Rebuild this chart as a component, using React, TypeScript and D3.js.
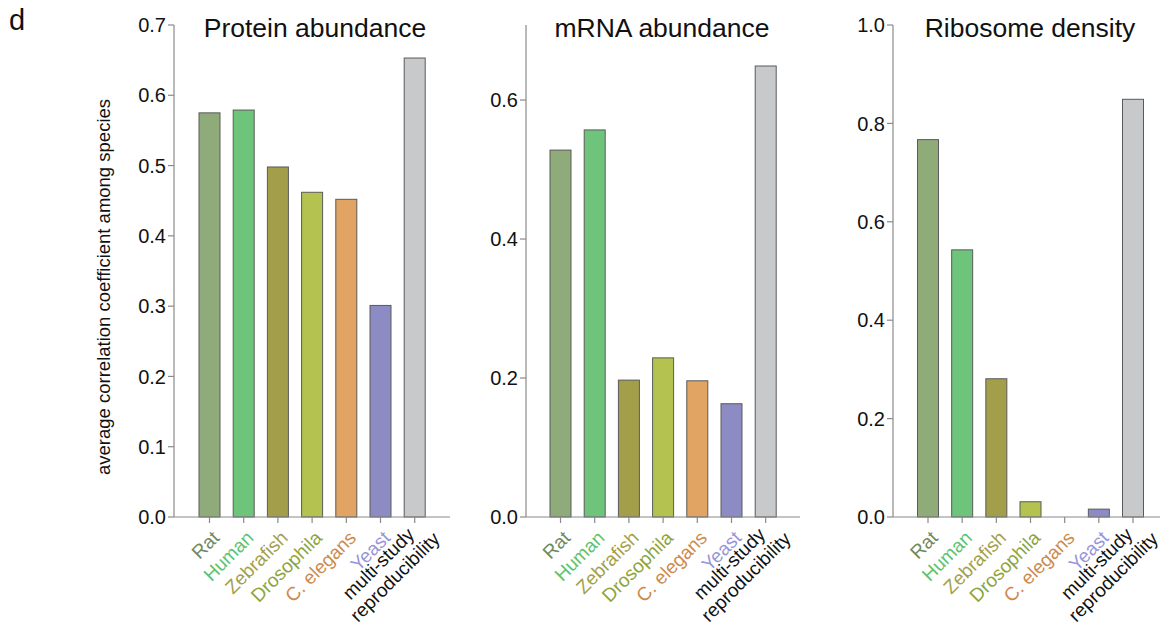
import React from "react";
import * as d3 from "d3";

const categories = ["Rat", "Human", "Zebrafish", "Drosophila", "C. elegans", "Yeast", "multi-study reproducibility"];
const barColors = ["#8fab7a", "#6dc47a", "#a39e4a", "#b4c24f", "#e2a462", "#8d8bc3", "#c8c9cb"];
const labelColors = ["#6f8a60", "#5cc46e", "#a3a048", "#8da43a", "#cc8a4c", "#9896d8", "#111111"];

const proteinValues = [0.575, 0.579, 0.498, 0.462, 0.452, 0.301, 0.653];
const mrnaValues = [0.528, 0.557, 0.197, 0.229, 0.196, 0.163, 0.649];
const riboValues = [0.767, 0.543, 0.281, 0.031, null, 0.016, 0.849];

const proteinTicks = [0, 0.1, 0.2, 0.3, 0.4, 0.5, 0.6, 0.7];
const mrnaTicks = [0, 0.2, 0.4, 0.6];
const riboTicks = [0, 0.2, 0.4, 0.6, 0.8, 1.0];

const titles = ["Protein abundance", "mRNA abundance", "Ribosome density"];
const yAxisTitle = "average correlation coefficient among species";

const FONT = "'Liberation Sans', Arial, Helvetica, sans-serif";

type PanelSpec = {
  title: string;
  values: (number | null)[];
  ticks: number[];
  yMax: number;
  axisX: number;
  axisEnd: number;
  firstCenter: number;
  lastCenter: number;
  titleX: number;
};

const panels: PanelSpec[] = [
  { title: titles[0], values: proteinValues, ticks: proteinTicks, yMax: 0.7, axisX: 174, axisEnd: 450, firstCenter: 209.5, lastCenter: 414.7, titleX: 315 },
  { title: titles[1], values: mrnaValues, ticks: mrnaTicks, yMax: 0.708, axisX: 526, axisEnd: 800, firstCenter: 560.5, lastCenter: 765.7, titleX: 662 },
  { title: titles[2], values: riboValues, ticks: riboTicks, yMax: 1.0, axisX: 893, axisEnd: 1160, firstCenter: 928, lastCenter: 1133, titleX: 1030 },
];

const Y_TOP = 25;
const Y_BOTTOM = 517;
const BAR_W = 21;
const LABEL_SIZE = 19;

function Panel({ p }: { p: PanelSpec }) {
  const y = d3.scaleLinear().domain([0, p.yMax]).range([Y_BOTTOM, Y_TOP]);
  const x = d3.scalePoint<string>().domain(categories).range([p.firstCenter, p.lastCenter]);
  const fmt = d3.format(".1f");
  const axisColor = "#8a8a8a";
  return (
    <g>
      <text x={p.titleX} y={37} textAnchor="middle" fontSize={26.5} fontFamily={FONT} fill="#111">
        {p.title}
      </text>
      {/* bars */}
      {p.values.map((v, i) =>
        v == null ? null : (
          <rect
            key={i}
            x={(x(categories[i]) as number) - BAR_W / 2}
            y={y(v)}
            width={BAR_W}
            height={Y_BOTTOM - y(v)}
            fill={barColors[i]}
            stroke="#5a5a5a"
            strokeWidth={1}
          />
        )
      )}
      {/* y axis */}
      <line x1={p.axisX} x2={p.axisX} y1={Y_TOP} y2={Y_BOTTOM} stroke={axisColor} strokeWidth={1.2} />
      {p.ticks.map((t) => (
        <g key={t}>
          <line x1={p.axisX - 6} x2={p.axisX} y1={y(t)} y2={y(t)} stroke={axisColor} strokeWidth={1.2} />
          <text x={p.axisX - 8} y={y(t)} dy="0.36em" textAnchor="end" fontSize={20} fontFamily={FONT} fill="#111">
            {fmt(t)}
          </text>
        </g>
      ))}
      {/* x axis */}
      <line x1={p.axisX} x2={p.axisEnd} y1={Y_BOTTOM} y2={Y_BOTTOM} stroke={axisColor} strokeWidth={1.2} />
      {categories.map((c, i) => {
        const cx = x(c) as number;
        const twoLine = c === "multi-study reproducibility";
        return (
          <g key={c}>
            <line x1={cx} x2={cx} y1={Y_BOTTOM} y2={Y_BOTTOM + 6} stroke={axisColor} strokeWidth={1.2} />
            <g transform={`translate(${cx + 11},${Y_BOTTOM + 22}) rotate(-45)`}>
              {twoLine ? (
                <text textAnchor="end" fontSize={LABEL_SIZE} fontFamily={FONT} fill={labelColors[i]}>
                  <tspan x={-5} y={-9.5}>multi-study</tspan>
                  <tspan x={10} y={11.5}>reproducibility</tspan>
                </text>
              ) : (
                <text textAnchor="end" fontSize={LABEL_SIZE} fontFamily={FONT} fill={labelColors[i]}>
                  {c}
                </text>
              )}
            </g>
          </g>
        );
      })}
    </g>
  );
}

export default function App() {
  return (
    <svg width={1171} height={625} style={{ position: "absolute", left: 0, top: 0, background: "#fff" }}>
      <rect width={1171} height={625} fill="#fff" />
      <text x={9} y={30} fontSize={29} fontFamily={FONT} fill="#111">d</text>
      <text
        transform={`translate(110,287) rotate(-90)`}
        textAnchor="middle"
        fontSize={18.5}
        fontFamily={FONT}
        fill="#111"
      >
        {yAxisTitle}
      </text>
      {panels.map((p) => (
        <Panel key={p.title} p={p} />
      ))}
    </svg>
  );
}
